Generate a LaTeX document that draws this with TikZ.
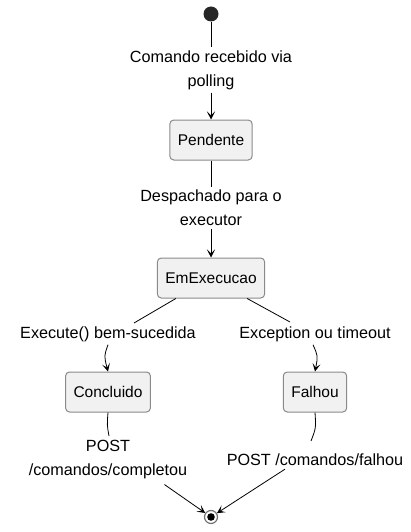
\documentclass[tikz,border=0pt]{standalone}
\usepackage{fontspec}
\setmainfont{Liberation Sans}
\usetikzlibrary{positioning}
\usetikzlibrary{arrows.meta}

\definecolor{boxfill}{HTML}{F1F1F1}
\definecolor{boxline}{HTML}{8A8A8A}

\tikzset{
    estado/.style={draw=boxline, fill=boxfill, rounded corners=4pt,
        line width=1pt, minimum height=40pt, inner xsep=8pt,
        font=\fontsize{15.5}{18}\selectfont},
    rotulo/.style={align=center, inner sep=3pt,
        font=\fontsize{16.2}{24}\selectfont},
    seta/.style={-{Stealth[length=8pt, width=8pt, inset=4pt]}, line width=0.8pt},
    linha/.style={line width=0.8pt}
}

\begin{document}
\begin{tikzpicture}[x=1pt, y=-1pt]
        \useasboundingbox (0,0) rectangle (410,532);

        \node[circle, fill=black!85, minimum size=15pt, inner sep=0pt]
        (ini) at (211,14) {};

        \node[rotulo] (r1) at (211,70)
        {Comando recebido via\\polling};

        \node[estado] (pend) at (211,140) {Pendente};

        \node[rotulo] (r2) at (211,208)
        {Despachado para o\\executor};

        \node[estado] (exec) at (211,278) {EmExecucao};

        \node[rotulo] (r3) at (108,334) {Execute() bem-sucedida};
        \node[rotulo] (r4) at (315,334) {Exception ou timeout};

        \node[estado] (conc) at (108,392) {Concluido};
        \node[estado] (falh) at (315,392) {Falhou};

        \node[rotulo] (r5) at (108,460)
        {POST\\/comandos/completou};

        \node[rotulo] (r6) at (315,460) {POST /comandos/falhou};

        \node[circle, draw=black!55, line width=1.2pt, fill=white,
            minimum size=13pt, inner sep=0pt]
        (fim) at (211,517) {};
        \fill[black] (fim.center) circle (3.8pt);

        \draw[linha] (ini) -- (r1);
        \draw[seta] (r1) -- (pend);
        \draw[linha] (pend) -- (r2);
        \draw[seta] (r2) -- (exec);

        \draw[linha] (exec.south west) ++(19,0) -- (134,323);
        \draw[seta] (r3.south) .. controls (104,356) .. (conc.north);
        \draw[linha] (exec.south east) ++(-18,0) -- (290,322);
        \draw[seta] (r4.south) ++(-2,0) .. controls (318,356) .. (falh.north);

        \draw[linha] (conc.south) .. controls (107,425) .. (109,436);
        \draw[seta] (r5.south east) ++(-26,2) -- (fim);
        \draw[linha] (falh.south) .. controls (316,428) .. (311,441);
        \draw[seta] (r6.south) ++(-30,0) -- (fim);
        \end{tikzpicture}
\end{document}
